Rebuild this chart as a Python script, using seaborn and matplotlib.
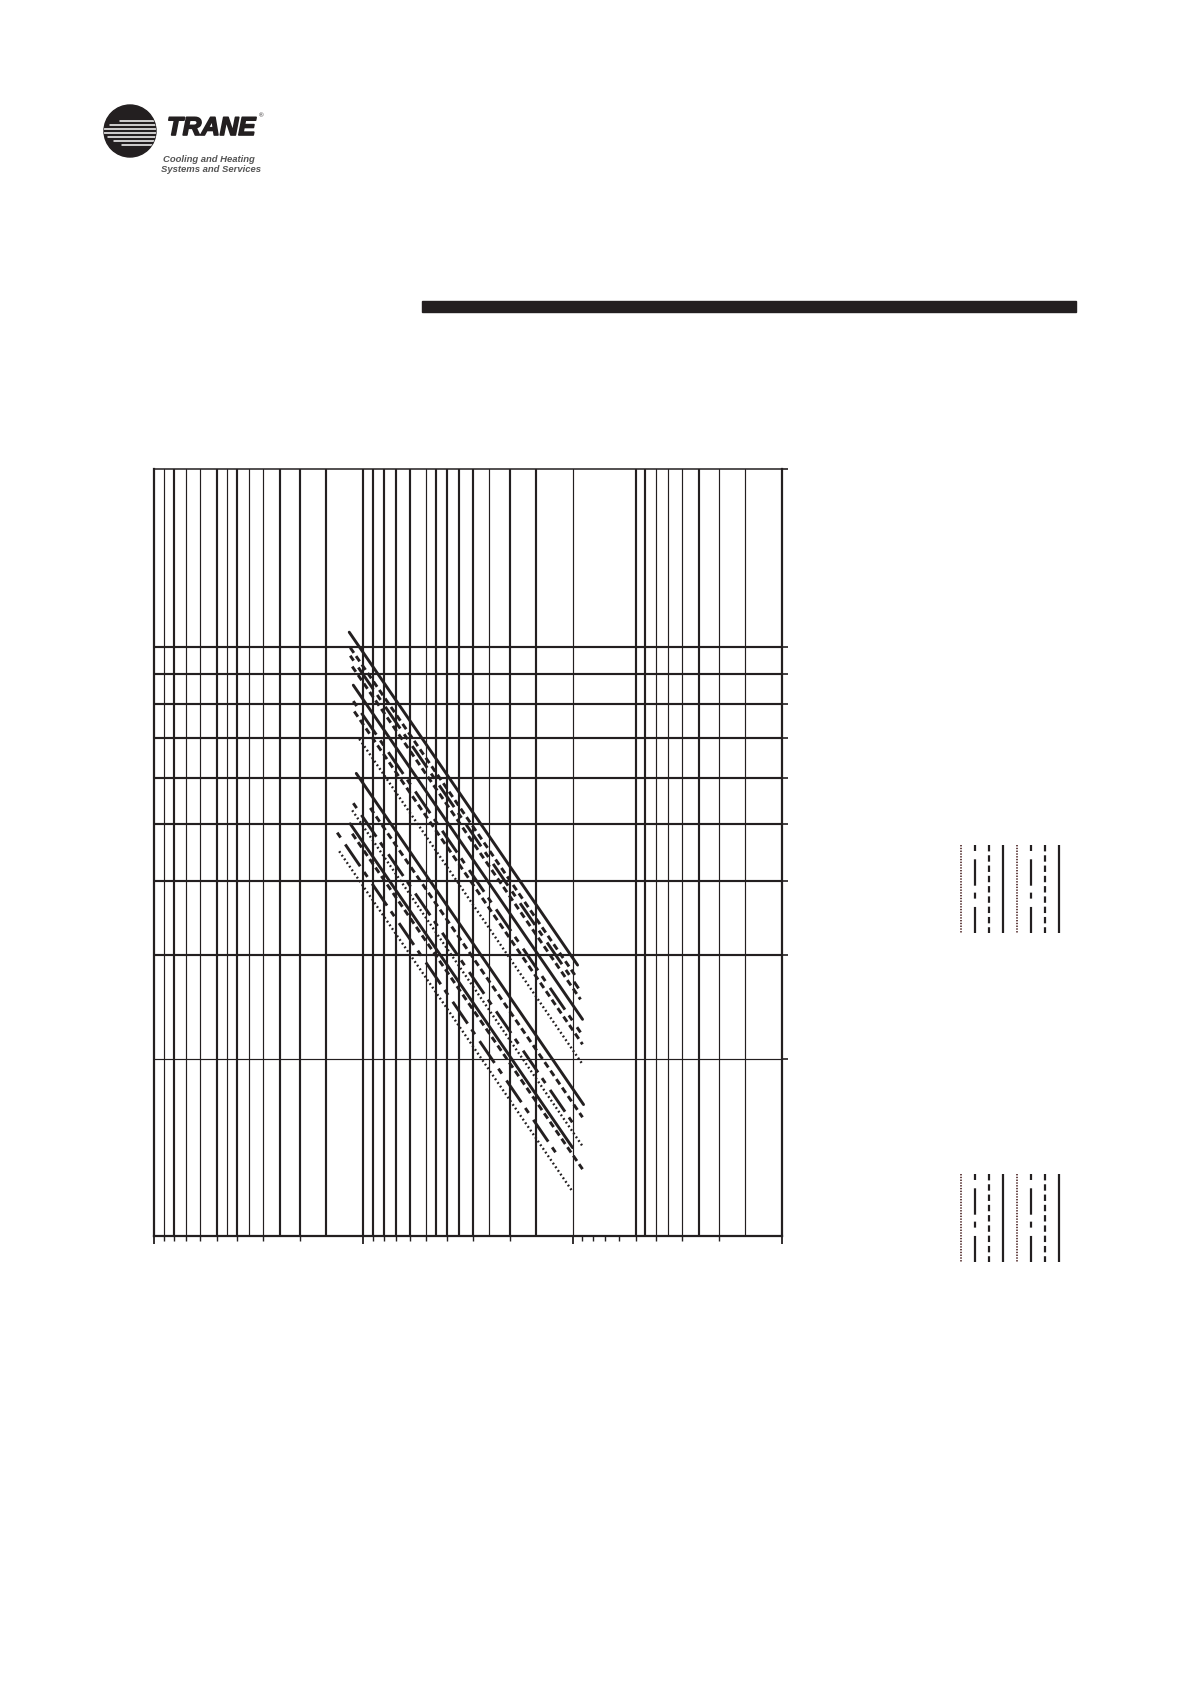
import numpy as np
import pandas as pd
import seaborn as sns
import matplotlib.pyplot as plt
import matplotlib.patheffects as pe
from matplotlib.patches import Circle, Rectangle
from matplotlib.ticker import NullLocator

INK = "#231f20"

# grid lines (x axis is a reversed log axis: 1000 on the left, 1 on the right)
x_grid_thick = [800, 500, 400, 250, 200, 150, 100, 90, 80, 70, 60, 45, 40, 35, 30, 20, 15, 5, 4.5, 2.5]
x_grid_thin = [900, 700, 600, 450, 350, 300, 50, 25, 10, 4, 3.5, 3, 2, 1.5]
y_grid_thick = [3, 4, 5, 6, 7, 8, 9, 10]
y_grid_thin = [2]
x_major = [1000, 100, 10, 1]
x_minor = [m * d for d in (100, 10, 1) for m in range(2, 10)]
y_ticks = [2, 3, 4, 5, 6, 7, 8, 9, 10, 20]

# upper family of curves
upper_style = ["solid", "dashed", "longdash", "dashed", "solid", "longdash", "dashed", "dotted"]
upper_x0 = [116.7, 115.4, 115.4, 112.9, 111.6, 111.6, 110.4, 104.5]
upper_x1 = [9.46, 9.67, 9.36, 9.16, 8.96, 9.16, 8.96, 8.96]
upper_y0 = [10.59, 9.97, 9.66, 9.26, 8.61, 8.09, 7.77, 6.98]
upper_y1 = [2.885, 2.763, 2.634, 2.523, 2.334, 2.218, 2.117, 1.958]

# lower family of curves
lower_style = ["solid", "dashed", "longdash", "dotted", "solid", "dashed", "longdash", "dotted"]
lower_x0 = [108.0, 92.6, 111.6, 112.9, 115.4, 112.9, 133.2, 130.3]
lower_x1 = [8.86, 8.96, 9.67, 8.96, 10.0, 8.96, 11.67, 10.0]
lower_y0 = [6.10, 5.33, 5.43, 5.28, 5.01, 4.82, 4.84, 4.50]
lower_y1 = [1.673, 1.592, 1.532, 1.422, 1.414, 1.300, 1.365, 1.191]

legend_styles = ["dotted", "longdash", "dashed", "solid"] * 2

dash_patterns = {"solid": "", "dashed": (4.6, 2.8), "longdash": (4.3, 6.0, 19, 5), "dotted": (1.3, 1.9)}
line_sizes = {"solid": 2.1, "dashed": 2.1, "longdash": 2.1, "dotted": 1.7}

rows = []
for grp, styles, x0, x1, y0, y1 in [("U", upper_style, upper_x0, upper_x1, upper_y0, upper_y1),
                                     ("L", lower_style, lower_x0, lower_x1, lower_y0, lower_y1)]:
    for i, st in enumerate(styles):
        rows.append({"line": f"{grp}{i}", "style": st, "x": x0[i], "y": y0[i]})
        rows.append({"line": f"{grp}{i}", "style": st, "x": x1[i], "y": y1[i]})
df = pd.DataFrame(rows)

sns.set_theme(style="ticks")
plt.rcParams["lines.scale_dashes"] = False

fig = plt.figure(figsize=(11.9, 16.84), dpi=100)
ax = fig.add_axes([0.1294, 0.26585, 0.5276, 0.4554])
ax.set_xscale("log")
ax.set_yscale("log")

for v in x_grid_thick:
    ax.axvline(v, color=INK, lw=1.55, zorder=1)
for v in x_grid_thin:
    ax.axvline(v, color=INK, lw=0.85, zorder=1)
for v in y_grid_thick:
    ax.axhline(v, color=INK, lw=1.55, zorder=1)
for v in y_grid_thin:
    ax.axhline(v, color=INK, lw=0.85, zorder=1)

sns.lineplot(data=df, x="x", y="y", units="line", estimator=None, sort=False,
             style="style", dashes=dash_patterns, size="style", sizes=line_sizes,
             color=INK, legend=False, ax=ax, zorder=3)

ax.set_xlim(1000, 1)
ax.set_ylim(1, 20)
ax.set_xlabel("")
ax.set_ylabel("")

ax.set_xticks(x_major)
ax.set_xticks(x_minor, minor=True)
ax.tick_params(axis="x", which="both", bottom=True, top=False, direction="out",
               labelbottom=False, color=INK)
ax.tick_params(axis="x", which="major", length=6, width=1.3)
ax.tick_params(axis="x", which="minor", length=3.5, width=1.0)
ax.set_yticks(y_ticks)
ax.yaxis.set_minor_locator(NullLocator())
ax.tick_params(axis="y", which="major", left=False, right=True, direction="out",
               length=4, width=1.2, labelleft=False, labelright=False, color=INK)
for side, sp in ax.spines.items():
    sp.set_visible(True)
    sp.set_color(INK)
    sp.set_linewidth(1.1 if side == "top" else 1.6)

# legends (line keys only, drawn vertically)
for bottom in (0.4460, 0.2506):
    lax = fig.add_axes([0.8017, bottom, 0.0941, 0.0525])
    for i, st in enumerate(legend_styles):
        col = "#5a3535" if st == "dotted" else INK
        ln, = lax.plot([i, i], [1, 0], color=col, lw=1.6 if st != "dotted" else 1.3)
        ln.set_dashes(dash_patterns[st] if st != "dotted" else (1.0, 1.0))
    lax.set_xlim(-0.5, 7.5)
    lax.set_ylim(0, 1)
    lax.axis("off")

# page furniture: logo, header bar
page = fig.add_axes([0, 0, 1, 1], zorder=-1)
page.set_xlim(0, 1190)
page.set_ylim(1684, 0)
page.axis("off")
disc = Circle((130, 131), 26, color=INK)
page.add_patch(disc)
stripe_y = [121, 125, 129, 133, 137, 141, 145]
stripe_x0 = [120, 110, 104, 104, 108, 114, 122]
for yy, xx in zip(stripe_y, stripe_x0):
    s, = page.plot([xx, 158], [yy, yy], color="white", lw=1.1)
    s.set_clip_path(disc)
page.text(167, 128, "TRANE", fontsize=18.5, fontweight="bold", style="italic",
          family="Liberation Sans", color=INK, ha="left", va="center",
          path_effects=[pe.withStroke(linewidth=1.2, foreground=INK)])
page.text(259, 116, "®", fontsize=4.5, color=INK, family="Liberation Sans", ha="left", va="center")
page.text(163, 160, "Cooling and Heating", fontsize=6.8, fontweight="bold", style="italic",
          family="Liberation Sans", color="#555555", ha="left", va="center")
page.text(161, 169, "Systems and Services", fontsize=6.8, fontweight="bold", style="italic",
          family="Liberation Sans", color="#555555", ha="left", va="center")
page.add_patch(Rectangle((422, 301), 654, 10.5, color=INK))

fig.savefig("out.png", dpi=100)
